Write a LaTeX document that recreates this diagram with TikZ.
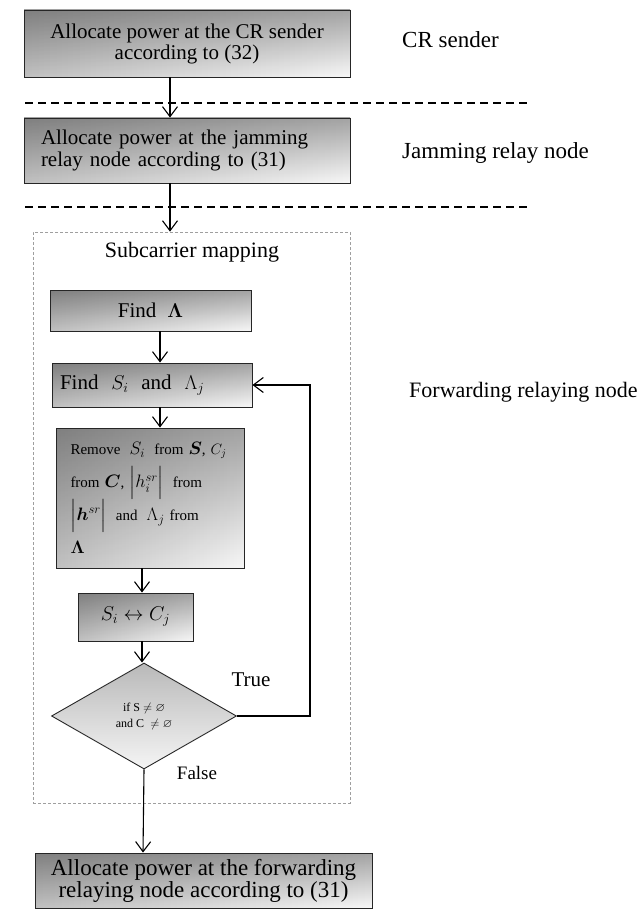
\RequirePackage{fix-cm}
\documentclass[tikz,border=0pt]{standalone}
\usepackage{amsmath,amssymb}
\usepackage{fontspec}
\setmainfont{Liberation Serif}
\usetikzlibrary{arrows.meta,shapes.geometric,fadings}
\newcommand\mth[1]{{\fontsize{20}{22}\selectfont$#1$}}
\newcommand\mtr[1]{{\fontsize{18}{22}\selectfont$#1$}}
\begin{document}
\begin{tikzpicture}[x=1pt,y=-1pt,
  shadefill/.style={top color=gray!72, bottom color=gray!6,
    path picture={\fill[black, opacity=0.22, path fading=east]
      (path picture bounding box.south west) rectangle (path picture bounding box.north east);}},
  stepbox/.style={draw=black!85, line width=0.9pt, rectangle, inner sep=0pt, shadefill},
  arr/.style={-{Straight Barb[length=10pt,width=15pt]}, line width=1.1pt},
  sect/.style={line width=1.3pt, dash pattern=on 8pt off 5pt},
  lbl/.style={font=\fontsize{23}{26}\selectfont, anchor=west, inner sep=0pt}]
\useasboundingbox (0,0) rectangle (640,909);
% boxes
\node[stepbox, minimum width=326pt, minimum height=67pt, align=center,
  font=\fontsize{21}{21}\selectfont] (b1) at (187,43.5)
  {Allocate power at the CR sender\\according to (32)};
\node[stepbox, minimum width=326pt, minimum height=65pt, text width=292pt, align=left,
  font=\fontsize{21}{22}\selectfont] (b2) at (187,150.5)
  {Allocate power at the jamming\\relay node according to (31)};
% section lines
\coordinate (l1a) at (25,103); \coordinate (l1b) at (528,103);
\coordinate (l2a) at (25,207); \coordinate (l2b) at (528,207);
\draw[sect] (l1a) -- (l1b);
\draw[sect] (l2a) -- (l2b);
% labels
\node[lbl] (lab1) at (402,40) {CR sender};
\node[lbl] (lab2) at (402,153) {Jamming relay node};
\node[lbl, font=\fontsize{22}{26}\selectfont] (lab3) at (409,392) {Forwarding relaying node};
% subcarrier mapping box
\node[draw=gray!75, line width=0.7pt, dash pattern=on 3pt off 2pt, minimum width=317pt,
  minimum height=571pt, inner sep=0pt] (sub) at (191.5,517.5) {};
\node[font=\fontsize{22}{24}\selectfont] (subt) at (192,252) {Subcarrier mapping};
\node[stepbox, minimum width=201pt, minimum height=41pt,
  font=\fontsize{21}{22}\selectfont] (fl) at (150.5,310.5) {Find\; \mth{\boldsymbol{\Lambda}}};
\node[stepbox, minimum width=200pt, minimum height=44pt, text width=184pt, inner xsep=8pt,
  align=left, font=\fontsize{21}{22}\selectfont] (fs) at (152,385)
  {Find\; \mth{S_i}\; and\; \mth{\Lambda_j}};
\node[stepbox, minimum width=187pt, minimum height=140pt, text width=160pt, inner xsep=14pt,
  align=left, font=\fontsize{15}{33}\selectfont] (rm) at (150.5,498)
  {Remove\; \mtr{S_i}\; from \mtr{\boldsymbol{S}}, $C_j$\\
   from \mtr{\boldsymbol{C}}, \mtr{\Big|h_i^{sr}\Big|}\; from\\
   \mtr{\Big|\boldsymbol{h}^{sr}\Big|}\; and\; \mtr{\Lambda_j} from\\
   \mtr{\boldsymbol{\Lambda}}};
\node[stepbox, minimum width=115pt, minimum height=48pt,
  font=\fontsize{21}{22}\selectfont] (sc) at (135.5,617) {\mth{S_i \leftrightarrow C_j}};
\node[diamond, draw=black!85, line width=0.9pt, inner sep=0pt, minimum width=185pt,
  minimum height=106pt, top color=gray!55, bottom color=gray!8,
  align=center, font=\fontsize{12}{16}\selectfont] (dia) at (144,716)
  {if S $\neq\varnothing$\\and C \;$\neq\varnothing$};
\node[font=\fontsize{21}{22}\selectfont] (tt) at (251,680) {True};
\node[font=\fontsize{19}{20}\selectfont] (ff) at (197,773) {False};
\node[stepbox, minimum width=337pt, minimum height=55pt, align=center,
  font=\fontsize{23}{22}\selectfont] (fin) at (203.5,880.5)
  {Allocate power at the forwarding\\relaying node according to (31)};
% connectors
\draw[arr] ([xshift=-17pt]b1.south) -- ([xshift=-17pt]b2.north);
\draw[arr] ([xshift=-17pt]b2.south) -- ([xshift=-21.5pt]sub.north);
\draw[arr] ([xshift=9.5pt]fl.south) -- ([xshift=8pt]fs.north);
\draw[arr] ([xshift=8pt]fs.south) -- ([xshift=9.5pt]rm.north);
\draw[arr] ([xshift=-8.5pt]rm.south) -- ([xshift=6.5pt]sc.north);
\draw[arr] ([xshift=6.5pt]sc.south) -- ([xshift=-2pt]dia.north);
\coordinate (loop) at (310,716);
\draw[arr] (dia.east) -- (loop) |- (fs.east);
\draw[arr] (dia.south) -- ([xshift=-60.5pt]fin.north);
\end{tikzpicture}
\end{document}
